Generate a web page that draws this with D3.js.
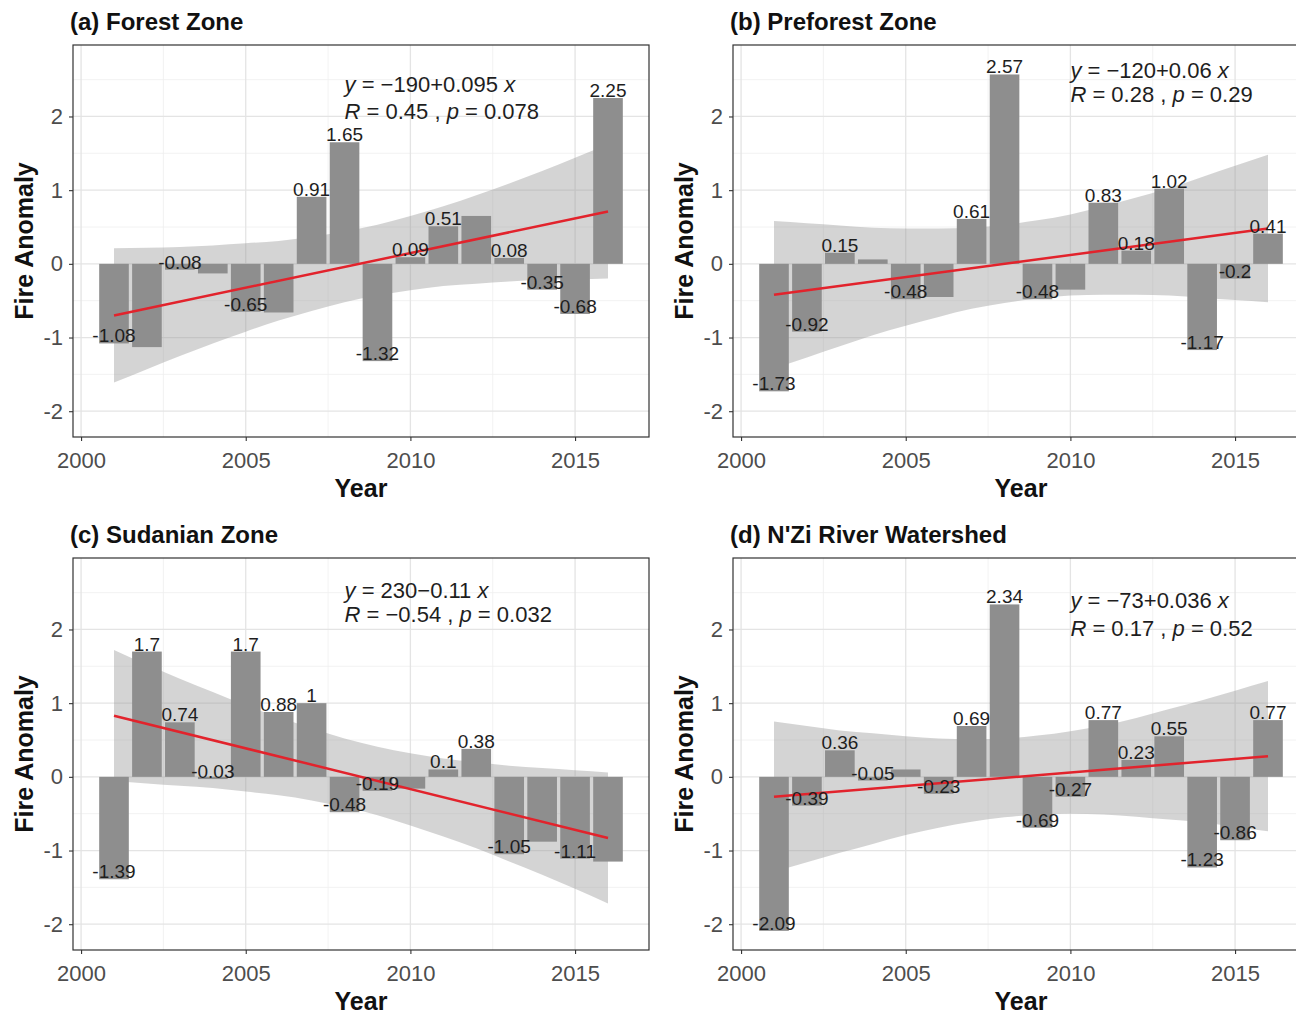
<!DOCTYPE html>
<html>
<head>
<meta charset="utf-8">
<script src="https://cdnjs.cloudflare.com/ajax/libs/d3/7.8.5/d3.min.js"></script>
<style>
    body { margin: 0; background: #ffffff; }
    svg text { font-family: "Liberation Sans", Arial, sans-serif; }
</style>
</head>
<body>
<svg id="chart" width="1296" height="1015"></svg>
<script>
// ---- data ----
const years = [2001, 2002, 2003, 2004, 2005, 2006, 2007, 2008, 2009, 2010, 2011, 2012, 2013, 2014, 2015, 2016];
const xTicks = [2000, 2005, 2010, 2015];
const yTicks = [-2, -1, 0, 1, 2];

const forestVals = [-1.08, -1.13, -0.08, -0.13, -0.65, -0.66, 0.91, 1.65, -1.32, 0.09, 0.51, 0.65, 0.08, -0.35, -0.68, 2.25];
const forestLabelYears = [2001, 2003, 2005, 2007, 2008, 2009, 2010, 2011, 2013, 2014, 2015, 2016];
const forestFit = [-0.70, 0.71];
const forestHi = [0.21, 0.22, 0.23, 0.25, 0.28, 0.31, 0.37, 0.44, 0.53, 0.65, 0.78, 0.93, 1.09, 1.26, 1.44, 1.62];
const forestLo = [-1.61, -1.43, -1.25, -1.08, -0.92, -0.77, -0.64, -0.52, -0.43, -0.36, -0.30, -0.27, -0.24, -0.22, -0.21, -0.20];

const preforestVals = [-1.73, -0.92, 0.15, 0.06, -0.48, -0.45, 0.61, 2.57, -0.48, -0.35, 0.83, 0.18, 1.02, -1.17, -0.2, 0.41];
const preforestLabelYears = [2001, 2002, 2003, 2005, 2007, 2008, 2009, 2011, 2012, 2013, 2014, 2015, 2016];
const preforestFit = [-0.42, 0.48];
const preforestHi = [0.58, 0.55, 0.52, 0.49, 0.48, 0.48, 0.49, 0.53, 0.59, 0.67, 0.78, 0.90, 1.03, 1.18, 1.33, 1.48];
const preforestLo = [-1.42, -1.27, -1.12, -0.97, -0.84, -0.72, -0.61, -0.53, -0.47, -0.43, -0.42, -0.42, -0.43, -0.46, -0.49, -0.52];

const sudanVals = [-1.39, 1.7, 0.74, -0.03, 1.7, 0.88, 1, -0.48, -0.19, -0.16, 0.1, 0.38, -1.05, -0.88, -1.11, -1.15];
const sudanLabelYears = [2001, 2002, 2003, 2004, 2005, 2006, 2007, 2008, 2009, 2011, 2012, 2013, 2015];
const sudanFit = [0.83, -0.83];
const sudanHi = [1.72, 1.52, 1.33, 1.15, 0.97, 0.81, 0.66, 0.52, 0.41, 0.32, 0.25, 0.20, 0.15, 0.12, 0.09, 0.06];
const sudanLo = [-0.06, -0.09, -0.12, -0.15, -0.20, -0.25, -0.32, -0.41, -0.52, -0.66, -0.81, -0.97, -1.15, -1.33, -1.52, -1.72];

const nziVals = [-2.09, -0.39, 0.36, -0.05, 0.1, -0.23, 0.69, 2.34, -0.69, -0.27, 0.77, 0.23, 0.55, -1.23, -0.86, 0.77];
const nziLabelYears = [2001, 2002, 2003, 2004, 2006, 2007, 2008, 2009, 2010, 2011, 2012, 2013, 2014, 2015, 2016];
const nziFit = [-0.27, 0.28];
const nziHi = [0.75, 0.69, 0.63, 0.59, 0.55, 0.52, 0.51, 0.52, 0.56, 0.62, 0.70, 0.80, 0.92, 1.04, 1.17, 1.30];
const nziLo = [-1.29, -1.16, -1.03, -0.91, -0.79, -0.69, -0.61, -0.55, -0.51, -0.50, -0.51, -0.54, -0.58, -0.62, -0.68, -0.74];

const titles = ["(a) Forest Zone", "(b) Preforest Zone", "(c) Sudanian Zone", "(d) N'Zi River Watershed"];
const equations = [
    ["y = −190+0.095 x", "R = 0.45 , p = 0.078"],
    ["y = −120+0.06 x", "R = 0.28 , p = 0.29"],
    ["y = 230−0.11 x", "R = −0.54 , p = 0.032"],
    ["y = −73+0.036 x", "R = 0.17 , p = 0.52"]
];

// ---- layout ----
const panels = [
    { dx: 0,   dy: 0,   vals: forestVals,    labelYears: forestLabelYears,    fit: forestFit,    hi: forestHi,    lo: forestLo,    eqYear: 2008, eqBase: [92, 119] },
    { dx: 660, dy: 0,   vals: preforestVals, labelYears: preforestLabelYears, fit: preforestFit, hi: preforestHi, lo: preforestLo, eqYear: 2010, eqBase: [78, 102] },
    { dx: 0,   dy: 513, vals: sudanVals,     labelYears: sudanLabelYears,     fit: sudanFit,     hi: sudanHi,     lo: sudanLo,     eqYear: 2008, eqBase: [85, 109] },
    { dx: 660, dy: 513, vals: nziVals,       labelYears: nziLabelYears,       fit: nziFit,       hi: nziHi,       lo: nziLo,       eqYear: 2010, eqBase: [95, 123] }
];

const pLeft = 73, pRight = 649, pTop = 45, pBottom = 437;

const x = d3.scaleLinear().domain([1999.755, 2017.245]).range([pLeft, pRight]);
const y = d3.scaleLinear().domain([-2.35, 2.97]).range([pBottom, pTop]);
const barW = x(2000.9) - x(2000);

const svg = d3.select("#chart");
svg.append("rect").attr("width", 1296).attr("height", 1015).attr("fill", "#ffffff");

panels.forEach(function (p, i) {
    const g = svg.append("g").attr("transform", "translate(" + p.dx + "," + p.dy + ")");

    // panel background
    g.append("rect")
        .attr("x", pLeft).attr("y", pTop)
        .attr("width", pRight - pLeft).attr("height", pBottom - pTop)
        .attr("fill", "#ffffff");

    // grid: minor then major
    const yMinor = [-1.5, -0.5, 0.5, 1.5, 2.5];
    const xMinor = [2002.5, 2007.5, 2012.5];
    g.selectAll(".gy_minor").data(yMinor).enter().append("line")
        .attr("x1", pLeft).attr("x2", pRight)
        .attr("y1", d => y(d)).attr("y2", d => y(d))
        .attr("stroke", "#efefef").attr("stroke-width", 0.8);
    g.selectAll(".gx_minor").data(xMinor).enter().append("line")
        .attr("y1", pTop).attr("y2", pBottom)
        .attr("x1", d => x(d)).attr("x2", d => x(d))
        .attr("stroke", "#efefef").attr("stroke-width", 0.8);
    g.selectAll(".gy_major").data(yTicks).enter().append("line")
        .attr("x1", pLeft).attr("x2", pRight)
        .attr("y1", d => y(d)).attr("y2", d => y(d))
        .attr("stroke", "#e4e4e4").attr("stroke-width", 1.3);
    g.selectAll(".gx_major").data(xTicks).enter().append("line")
        .attr("y1", pTop).attr("y2", pBottom)
        .attr("x1", d => x(d)).attr("x2", d => x(d))
        .attr("stroke", "#e4e4e4").attr("stroke-width", 1.3);

    // confidence ribbon
    const band = years.map((yr, k) => ({ yr: yr, hi: p.hi[k], lo: p.lo[k] }));
    const area = d3.area()
        .x(d => x(d.yr))
        .y0(d => y(d.lo))
        .y1(d => y(d.hi))
        .curve(d3.curveNatural);
    g.append("path").datum(band)
        .attr("d", area)
        .attr("fill", "#999999")
        .attr("fill-opacity", 0.42);

    // bars
    const bars = years.map((yr, k) => ({ yr: yr, v: p.vals[k] }));
    g.selectAll(".bar").data(bars).enter().append("rect")
        .attr("class", "bar")
        .attr("x", d => x(d.yr) - barW / 2)
        .attr("width", barW)
        .attr("y", d => y(Math.max(0, d.v)))
        .attr("height", d => Math.abs(y(d.v) - y(0)))
        .attr("fill", "#8e8e8e");

    // fitted line
    const fitPts = [[years[0], p.fit[0]], [years[years.length - 1], p.fit[1]]];
    g.append("path").datum(fitPts)
        .attr("d", d3.line().x(d => x(d[0])).y(d => y(d[1])))
        .attr("fill", "none")
        .attr("stroke", "#e2232c")
        .attr("stroke-width", 2.5);

    // value labels
    const labelled = bars.filter(d => p.labelYears.indexOf(d.yr) >= 0);
    g.selectAll(".vlab").data(labelled).enter().append("text")
        .attr("x", d => x(d.yr))
        .attr("y", d => y(d.v) - 1)
        .attr("text-anchor", "middle")
        .attr("font-size", 19)
        .attr("fill", "#1e1e1e")
        .text(d => String(d.v));

    // regression equation
    equations[i].forEach(function (line, j) {
        const t = g.append("text")
            .attr("x", x(p.eqYear))
            .attr("y", p.eqBase[j])
            .attr("font-size", 22)
            .attr("fill", "#1e1e1e");
        line.split(/\b([xyRp])\b/).forEach(function (part, k) {
            if (part === "") return;
            t.append("tspan")
                .attr("font-style", k % 2 === 1 ? "italic" : "normal")
                .text(part);
        });
    });

    // border
    g.append("rect")
        .attr("x", pLeft).attr("y", pTop)
        .attr("width", pRight - pLeft).attr("height", pBottom - pTop)
        .attr("fill", "none")
        .attr("stroke", "#333333")
        .attr("stroke-width", 1.2);

    // axes
    const xAxis = d3.axisBottom(x).tickValues(xTicks).tickSize(4).tickPadding(11).tickFormat(d => String(d));
    const yAxis = d3.axisLeft(y).tickValues(yTicks).tickSize(4).tickPadding(6).tickFormat(d => String(d));

    const gx = g.append("g").attr("transform", "translate(0," + pBottom + ")").call(xAxis);
    const gy = g.append("g").attr("transform", "translate(" + pLeft + ",0)").call(yAxis);
    [gx, gy].forEach(function (ax) {
        ax.select(".domain").remove();
        ax.selectAll(".tick line").attr("stroke", "#333333").attr("stroke-width", 1.1);
        ax.selectAll(".tick text")
            .attr("fill", "#4d4d4d")
            .style("font-size", "22px")
            .style("font-family", "\"Liberation Sans\", Arial, sans-serif");
    });

    // axis titles
    g.append("text")
        .attr("x", (pLeft + pRight) / 2)
        .attr("y", 497)
        .attr("text-anchor", "middle")
        .attr("font-size", 25)
        .attr("font-weight", "bold")
        .attr("fill", "#111111")
        .text("Year");

    g.append("text")
        .attr("transform", "translate(33," + ((pTop + pBottom) / 2) + ") rotate(-90)")
        .attr("text-anchor", "middle")
        .attr("font-size", 25)
        .attr("font-weight", "bold")
        .attr("fill", "#111111")
        .text("Fire Anomaly");

    // panel title
    g.append("text")
        .attr("x", 70)
        .attr("y", 30)
        .attr("font-size", 24)
        .attr("font-weight", "bold")
        .attr("fill", "#111111")
        .text(titles[i]);
});
</script>
</body>
</html>
